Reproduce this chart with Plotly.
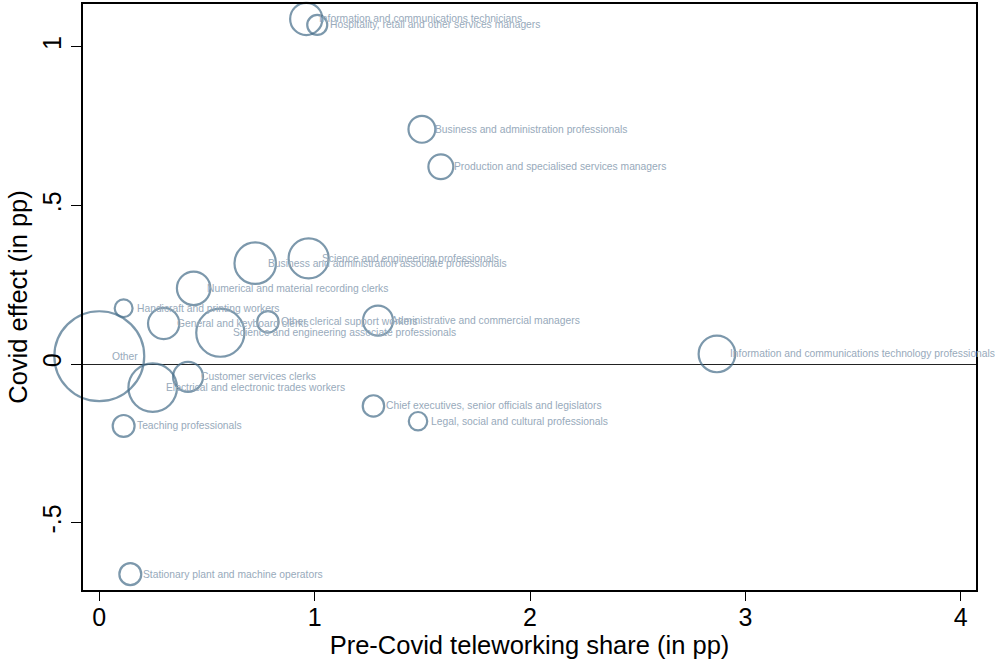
import plotly.graph_objects as go

# Occupation groups: pre-Covid teleworking share vs. estimated Covid effect
occupations = [
    "Information and communications technicians",
    "Hospitality, retail and other services managers",
    "Business and administration professionals",
    "Production and specialised services managers",
    "Business and administration associate professionals",
    "Science and engineering professionals",
    "Numerical and material recording clerks",
    "Handicraft and printing workers",
    "General and keyboard clerks",
    "Other clerical support workers",
    "Science and engineering associate professionals",
    "Administrative and commercial managers",
    "Other",
    "Customer services clerks",
    "Electrical and electronic trades workers",
    "Teaching professionals",
    "Chief executives, senior officials and legislators",
    "Legal, social and cultural professionals",
    "Information and communications technology professionals",
    "Stationary plant and machine operators",
]
telework_share = [0.961, 1.012, 1.498, 1.586, 0.724, 0.972, 0.438, 0.113, 0.299, 0.783,
                  0.562, 1.294, 0.000, 0.412, 0.248, 0.113, 1.273, 1.480, 2.868, 0.144]
covid_effect = [1.088, 1.069, 0.740, 0.622, 0.318, 0.333, 0.239, 0.176, 0.128, 0.133,
                0.099, 0.137, 0.025, -0.040, -0.074, -0.195, -0.132, -0.180, 0.032, -0.662]
# employment weight (share of employment, %)
emp_weight = [2.6, 1.0, 1.8, 1.55, 4.3, 4.0, 2.8, 0.8, 2.45, 1.15,
              5.8, 2.25, 20.2, 2.25, 5.9, 1.2, 1.15, 0.85, 3.35, 1.2]

x_ticks = [0, 1, 2, 3, 4]
y_ticks = [-0.5, 0, 0.5, 1]
y_tick_text = ["-.5", "0", ".5", "1"]

CIRCLE = "#456d89"
LABEL = "#98aabb"
FONT = "Liberation Sans, Arial, Helvetica, sans-serif"

fig = go.Figure()
fig.add_trace(go.Scatter(
    x=telework_share, y=covid_effect, mode="markers",
    marker=dict(size=emp_weight, sizemode="area", sizeref=0.005,
                color="rgba(0,0,0,0)", line=dict(color=CIRCLE, width=2.2)),
    cliponaxis=False, hoverinfo="text", text=occupations,
))

for name, xv, yv in zip(occupations, telework_share, covid_effect):
    fig.add_annotation(x=xv, y=yv, text=name, showarrow=False,
                       xanchor="left", yanchor="middle", xshift=11,
                       font=dict(family=FONT, size=10.3, color=LABEL))

fig.update_layout(
    width=995, height=663,
    margin=dict(l=83, r=19, t=4, b=73),
    paper_bgcolor="white", plot_bgcolor="white",
    showlegend=False,
    font=dict(family=FONT, color="black"),
)
fig.update_xaxes(
    range=[-0.0757, 4.071], tickvals=x_ticks, ticks="outside", ticklen=9,
    tickwidth=1.3, tickcolor="black", showgrid=False, zeroline=False,
    showline=True, linecolor="black", linewidth=1.8, mirror=True,
    tickfont=dict(size=25), automargin=False, ticklabelstandoff=-5,
    title=dict(text="Pre-Covid teleworking share (in pp)", font=dict(size=25.5), standoff=2),
)
fig.update_yaxes(
    range=[-0.712, 1.135], tickvals=y_ticks, ticktext=y_tick_text, tickangle=-90,
    ticks="outside", ticklen=10, tickwidth=1.3, tickcolor="black",
    showgrid=False, zeroline=True, zerolinecolor="#222222", zerolinewidth=1,
    showline=True, linecolor="black", linewidth=1.8, mirror=True,
    tickfont=dict(size=25), automargin=False,
    title=dict(text="Covid effect (in pp)", font=dict(size=25.5), standoff=3),
)

fig.write_html("out.html")
